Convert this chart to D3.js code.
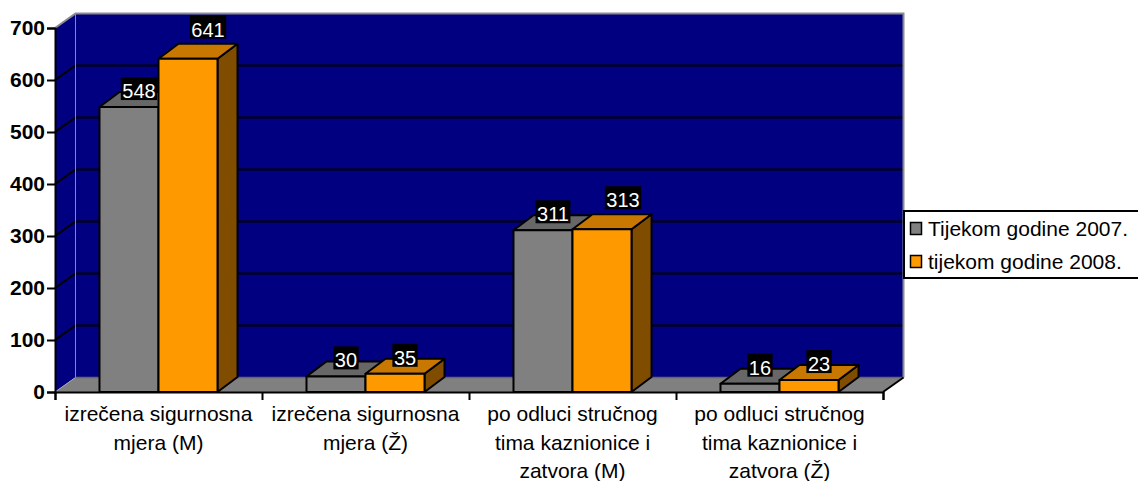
<!DOCTYPE html>
<html>
<head>
<meta charset="utf-8">
<script src="https://cdn.jsdelivr.net/npm/d3@7"></script>
<style>
  body { margin: 0; background: #fff; }
  svg { display: block; font-family: "Liberation Sans", Arial, sans-serif; }
</style>
</head>
<body>
<div id="chart"></div>
<script>
// data
var categories = [
  "izrečena sigurnosna mjera (M)",
  "izrečena sigurnosna mjera (Ž)",
  "po odluci stručnog tima kaznionice i zatvora (M)",
  "po odluci stručnog tima kaznionice i zatvora (Ž)"
];
var seriesNames = ["Tijekom godine 2007.", "tijekom godine 2008."];
var values2007 = [548, 30, 311, 16];
var values2008 = [641, 35, 313, 23];
var yTicks = [0, 100, 200, 300, 400, 500, 600, 700];

var width = 1138, height = 481;
var plotLeft = 55, plotRight = 883, plotBottom = 392, plotTop = 28;
var dx = 20.5, dy = -14.5;   // 3d depth offset

var colors = [
  {front: "#808080", top: "#676767", side: "#4d4d4d"},
  {front: "#FF9900", top: "#C87800", side: "#804D00"}
];

var svg = d3.select("#chart").append("svg")
    .attr("width", width)
    .attr("height", height);

svg.append("rect").attr("width", width).attr("height", height).attr("fill", "#fff");

var x0 = d3.scaleBand().domain(categories).range([plotLeft, plotRight]).paddingInner(0).paddingOuter(0);
var x1 = d3.scaleBand().domain(seriesNames).range([0, x0.bandwidth()]).paddingInner(0).paddingOuter(0.754);
var y = d3.scaleLinear().domain([0, 700]).range([plotBottom, plotTop]);

function pts(a) { return a.map(function(p) { return p.join(","); }).join(" "); }

// left side wall
svg.append("polygon")
    .attr("points", pts([[plotLeft, y(700)], [plotLeft + dx, y(700) + dy], [plotLeft + dx, y(0) + dy], [plotLeft, y(0)]]))
    .attr("fill", "#000080");

// back wall
svg.append("rect")
    .attr("x", plotLeft + dx).attr("y", y(700) + dy)
    .attr("width", plotRight - plotLeft).attr("height", y(0) - y(700))
    .attr("fill", "#000080");

// gridlines
var grid = svg.append("g");
yTicks.filter(function(t) { return t > 0 && t < 700; }).forEach(function(t) {
  grid.append("polyline")
      .attr("points", pts([[plotLeft, y(t)], [plotLeft + dx, y(t) + dy], [plotRight + dx, y(t) + dy]]))
      .attr("fill", "none").attr("stroke", "#000").attr("stroke-width", 2);
});

// wall borders
svg.append("polyline")
    .attr("points", pts([[plotLeft, y(700)], [plotLeft + dx, y(700) + dy], [plotRight + dx, y(700) + dy], [plotRight + dx, y(0) + dy]]))
    .attr("fill", "none").attr("stroke", "#8c8c8c").attr("stroke-width", 2);
svg.append("line")
    .attr("x1", plotLeft + dx).attr("x2", plotLeft + dx)
    .attr("y1", y(700) + dy).attr("y2", y(0) + dy)
    .attr("stroke", "#8c8c8c").attr("stroke-width", 1);

// floor
svg.append("polygon")
    .attr("points", pts([[plotLeft, y(0)], [plotLeft + dx, y(0) + dy], [plotRight + dx, y(0) + dy], [plotRight, y(0)]]))
    .attr("fill", "#808080");
svg.append("polyline")
    .attr("points", pts([[plotLeft + dx, y(0) + dy], [plotRight + dx, y(0) + dy]]))
    .attr("stroke", "#666").attr("stroke-width", 1.5);
svg.append("line")
    .attr("x1", plotLeft).attr("y1", y(0)).attr("x2", plotLeft + dx).attr("y2", y(0) + dy)
    .attr("stroke", "#a6a6a6").attr("stroke-width", 1);
svg.append("polyline")
    .attr("points", pts([[plotRight, y(0)], [plotRight + dx, y(0) + dy]]))
    .attr("fill", "none").attr("stroke", "#000").attr("stroke-width", 2);

// bars
var bdx = 20, bdy = -15;
var allSeries = [values2007, values2008];
var bars = svg.append("g");
categories.forEach(function(c, i) {
  allSeries.forEach(function(vals, s) {
    var xa = x0(c) + x1(seriesNames[s]);
    var xb = xa + x1.bandwidth();
    var yt = y(vals[i]), yb = y(0);
    var g = bars.append("g").attr("stroke", "#000").attr("stroke-width", 2).attr("stroke-linejoin", "round");
    g.append("polygon")
        .attr("points", pts([[xb, yt], [xb + bdx, yt + bdy], [xb + bdx, yb + bdy], [xb, yb]]))
        .attr("fill", colors[s].side);
    g.append("polygon")
        .attr("points", pts([[xa, yt], [xa + bdx, yt + bdy], [xb + bdx, yt + bdy], [xb, yt]]))
        .attr("fill", colors[s].top);
    g.append("rect")
        .attr("x", xa).attr("y", yt).attr("width", xb - xa).attr("height", yb - yt)
        .attr("fill", colors[s].front);
  });
});

// data labels (a couple of them were pushed aside in the original)
var nudge = {"1-0": [10, -13], "1-2": [11, -13]};
var labels = svg.append("g");
categories.forEach(function(c, i) {
  allSeries.forEach(function(vals, s) {
    var n = nudge[s + "-" + i] || [0, 0];
    var cx = x0(c) + x1(seriesNames[s]) + x1.bandwidth() / 2 + bdx / 2 + n[0];
    var by = y(vals[i]) - 9 + n[1];
    var t = labels.append("text")
        .attr("x", cx).attr("y", by)
        .attr("text-anchor", "middle")
        .attr("font-size", 20)
        .attr("fill", "#fff")
        .text(vals[i]);
    var w = t.node().getComputedTextLength();
    labels.insert("rect", function() { return t.node(); })
        .attr("x", cx - w / 2 - 1.5).attr("y", by - 21)
        .attr("width", w + 3).attr("height", 23)
        .attr("fill", "#000");
  });
});

// y axis
var yAxis = svg.append("g")
    .attr("transform", "translate(" + plotLeft + ",0)")
    .call(d3.axisLeft(y).tickValues(yTicks).tickSize(8).tickPadding(2));
yAxis.select(".domain").attr("stroke", "#000").attr("stroke-width", 2);
yAxis.selectAll(".tick line").attr("stroke", "#000").attr("stroke-width", 2);
yAxis.selectAll(".tick text")
    .attr("font-size", 21).attr("font-weight", "bold")
    .attr("font-family", "'Liberation Sans', Arial, sans-serif")
    .attr("fill", "#000");

// x axis
var xi = d3.scaleLinear().domain([0, categories.length]).range([plotLeft, plotRight]);
var xAxis = svg.append("g")
    .attr("transform", "translate(0," + plotBottom + ")")
    .call(d3.axisBottom(xi).tickValues(d3.range(categories.length + 1)).tickSize(8).tickFormat(""));
xAxis.select(".domain").attr("stroke", "#000").attr("stroke-width", 2);
xAxis.selectAll(".tick line").attr("stroke", "#000").attr("stroke-width", 2);

// category labels, wrapped
categories.forEach(function(c) {
  var cx = x0(c) + x0.bandwidth() / 2;
  var t = svg.append("text")
      .attr("x", cx)
      .attr("y", 421)
      .attr("text-anchor", "middle")
      .attr("font-size", 21)
      .attr("fill", "#000");
  var words = c.split(" "), line = [];
  var tspan = t.append("tspan").attr("x", cx).attr("dy", 0);
  words.forEach(function(wd) {
    line.push(wd);
    tspan.text(line.join(" "));
    if (tspan.node().getComputedTextLength() > 203 && line.length > 1) {
      line.pop();
      tspan.text(line.join(" "));
      line = [wd];
      tspan = t.append("tspan").attr("x", cx).attr("dy", 28.5).text(wd);
    }
  });
});

// legend
var legend = svg.append("g");
legend.append("rect")
    .attr("x", 904).attr("y", 211).attr("width", 240).attr("height", 67)
    .attr("fill", "#fff").attr("stroke", "#000").attr("stroke-width", 2);
seriesNames.forEach(function(name, s) {
  legend.append("rect")
      .attr("x", 910.5).attr("y", 222.5 + s * 33).attr("width", 11).attr("height", 12)
      .attr("fill", colors[s].front).attr("stroke", "#000").attr("stroke-width", 1.5);
  legend.append("text")
      .attr("x", 928).attr("y", 236 + s * 33)
      .attr("font-size", 21).attr("fill", "#000")
      .text(name);
});
</script>
</body>
</html>
